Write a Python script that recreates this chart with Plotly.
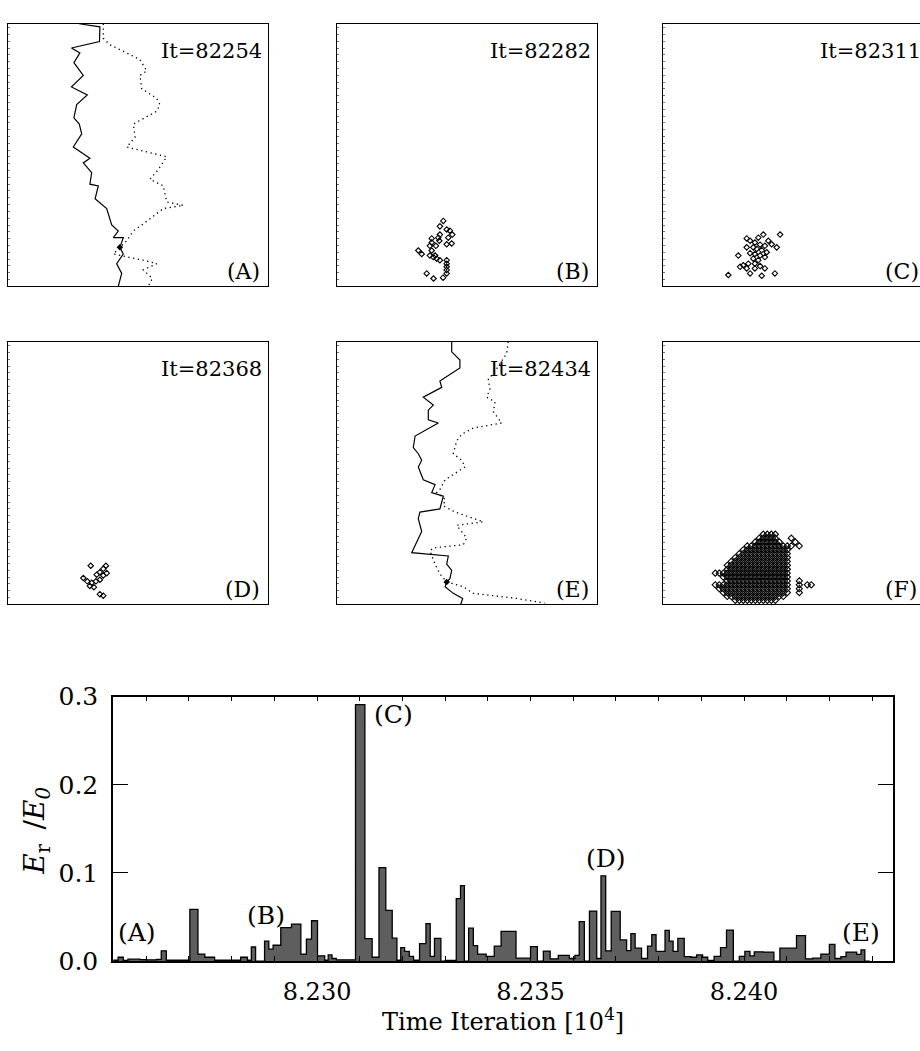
import plotly.graph_objects as go

W, H = 920, 1051
FONT = "DejaVu Serif"

# ---------------- bottom chart: energy ratio vs time iteration ----------------
step_start = [82252.3, 82253.4, 82254.6, 82255.7, 82258.5, 82260.0, 82262.4, 82263.5, 82264.7,
              82270.2, 82272.1, 82273.7, 82276.0, 82282.1, 82283.7, 82284.6, 82285.6, 82287.7,
              82288.7, 82289.7, 82291.5, 82294.0, 82296.2, 82297.5, 82298.7, 82300.1, 82301.8,
              82302.6, 82303.5, 82304.5, 82309.0, 82311.2, 82312.9, 82314.5, 82316.1, 82317.6,
              82318.7, 82319.6, 82320.5, 82321.6, 82322.6, 82324.0, 82325.5, 82326.5, 82327.5,
              82329.0, 82330.0, 82332.6, 82333.6, 82334.5, 82335.5, 82336.6, 82337.6, 82339.6,
              82341.5, 82343.1, 82346.6, 82350.0, 82351.6, 82353.0, 82354.6, 82356.5, 82359.1,
              82360.4, 82361.4, 82362.6, 82363.8, 82365.5, 82366.5, 82367.6, 82368.9, 82371.0,
              82372.5, 82373.5, 82374.5, 82376.0, 82377.4, 82378.4, 82379.4, 82381.5, 82382.5,
              82383.4, 82384.5, 82386.0, 82387.6, 82388.9, 82390.3, 82391.5, 82393.0, 82394.5,
              82395.9, 82397.5, 82398.9, 82400.2, 82401.4, 82402.4, 82404.5, 82407.0, 82408.4,
              82412.3, 82414.4, 82416.1, 82418.0, 82420.0, 82421.3, 82422.7, 82423.9, 82426.4,
              82427.4, 82428.3]
step_energy = [0.001, 0.0044, 0.0007, 0.0022, 0.0018, 0.0015, 0.002, 0.0117, 0.001,
               0.0586, 0.008, 0.0044, 0.001, 0.0044, 0.001, 0.016, 0.0, 0.0227,
               0.0136, 0.018, 0.038, 0.042, 0.008, 0.025, 0.0458, 0.006, 0.001,
               0.007, 0.003, 0.0015, 0.291, 0.0256, 0.0044, 0.106, 0.0575, 0.026,
               0.001, 0.0154, 0.011, 0.0055, 0.001, 0.0198, 0.0425, 0.0055, 0.0258,
               0.0, 0.0008, 0.071, 0.0857, 0.0, 0.0374, 0.0176, 0.008, 0.0055,
               0.017, 0.0337, 0.0033, 0.0165, 0.0, 0.0114, 0.0026, 0.0066, 0.003,
               0.0066, 0.0447, 0.0, 0.0568, 0.003, 0.0967, 0.0117, 0.0565, 0.024,
               0.012, 0.0311, 0.0147, 0.003, 0.017, 0.030, 0.011, 0.0348, 0.0227,
               0.011, 0.0258, 0.005, 0.0044, 0.007, 0.0044, 0.0007, 0.0055, 0.0154,
               0.0352, 0.0, 0.0055, 0.011, 0.006, 0.0106, 0.0103, 0.0, 0.0147,
               0.0289, 0.0026, 0.0033, 0.008, 0.019, 0.003, 0.005, 0.0103, 0.0077,
               0.0128, 0.0]
step_end = 82429.5
x_range_iter = [82252.2, 82434.9]
x_tick_labels = ["8.230", "8.235", "8.240"]
y_tick_labels = ["0.0", "0.1", "0.2", "0.3"]
event_labels = ["(A)", "(B)", "(C)", "(D)", "(E)"]
event_x = [8.22579, 8.22881, 8.23178, 8.23677, 8.24274]
event_y = [0.033, 0.0516, 0.280, 0.1165, 0.033]

# ---------------- snapshot panels (lattice coordinates: column, row) ----------------
panel_iters = ["It=82254", "It=82282", "It=82311", "It=82368", "It=82434", ""]
panel_tags = ["(A)", "(B)", "(C)", "(D)", "(E)", "(F)"]

a_solid_c = [17.7, 22.9, 22.8, 15.8, 17.9, 16.4, 18.75, 15.8, 19.75, 17.1, 16.4, 17.75, 18.35, 16.25,
             20.4, 18.75, 20.85, 20.4, 22.5, 21.7, 24.6, 25.85, 27.5, 26.25, 28.75, 27.9, 28.75,
             27.1, 28.35, 27.5]
a_solid_r = [67.5, 66.7, 62.9, 61.25, 60, 57.5, 54.2, 51.25, 49.2, 46.7, 43.3, 41.7, 39.2, 35.8,
             32.9, 31.7, 29.2, 26.25, 25.8, 22.5, 20, 15.8, 14.2, 12.5, 12.5, 10, 8.3, 5.8, 3.3, 0]
a_dot_c = [23.75, 23.75, 25.4, 29.6, 32.9, 34.6, 32.9, 33.35, 37.1, 37.9, 37.1, 31.25, 31.7, 29.6,
           39.6, 37.5, 35.4, 38.75, 39.6, 43.75, 38.75, 34.6, 31.25, 29.6, 27.9, 26.25, 33.75,
           37.1, 33.75, 36, 35]
a_dot_r = [67.5, 63.75, 62.1, 60, 58.3, 55.4, 54.2, 50.8, 48.3, 46.7, 45, 41.7, 38.3, 35.8, 33.3,
           30, 27.5, 25.8, 21.7, 20.8, 20, 16.7, 14.2, 11.7, 10, 8.3, 6.7, 5.8, 4.2, 2, 0]
a_mark = (27.9, 10.0)

e_solid_c = [28.75, 28.75, 30.8, 30.8, 25.8, 26.25, 21.65, 24.15, 22.9, 22.9, 25.4, 19.6, 19.15,
             20.4, 21.25, 20.4, 21.65, 24.6, 23.75, 26.65, 25.8, 20.8, 20.4, 21.25, 18.75, 27.9,
             27.5, 28.75, 28.3, 27.5, 27.1, 29.15, 31.5, 31]
e_solid_r = [67.5, 64.9, 62.8, 60.75, 57.4, 55.75, 53.25, 51.2, 49.9, 47.4, 46.6, 43.25, 40.3,
             38.7, 37, 35.3, 32, 30.75, 28.7, 27.8, 24.5, 23.7, 22, 18.7, 13.25, 12.4, 10.3, 8.7,
             6.6, 5.75, 4.5, 2.8, 1.5, 0]
e_dot_c = [42.9, 42.5, 39.6, 37.9, 38.3, 37.5, 39.6, 39.15, 41.25, 34.15, 31.25, 30, 29.15, 31.25,
           32.1, 28.3, 27.1, 25.8, 25, 27.1, 26.65, 29.6, 36.65, 30, 31.25, 32.5, 31.65, 24.15,
           23.3, 24.6, 25.8, 27.5, 31.65, 34.15, 45, 52]
e_dot_r = [67.5, 64.5, 59.9, 57.8, 55.3, 53.25, 52, 49.5, 46.6, 45.3, 43.7, 42, 38.7, 37, 35.3,
           32.8, 32, 29.5, 28.7, 27, 25.3, 23.7, 21.2, 20.3, 18.7, 17, 15.3, 14.5, 13.7, 10.3,
           7.8, 5.75, 4.5, 2.8, 1.5, 0.3]
e_mark = (27.5, 5.75)

b_c = [26.65, 25.8, 27.5, 28.3, 25.8, 28.9, 27.9, 23.75, 25.4, 23.75, 25.65, 28.75, 27.5, 23.3,
       24.8, 20.4, 21.25, 23.75, 23.3, 24.6, 25.0, 25.8, 24.15, 27.5, 27.5, 27.5, 27.5, 27.5,
       22.5, 26.6, 24.2]
b_r = [16.8, 15.4, 14.6, 14.3, 13.3, 13.3, 12.5, 12.3, 12.5, 11.25, 11.7, 11.0, 10.8, 10.4,
       10.4, 9.2, 8.3, 9.2, 7.9, 7.9, 7.1, 6.7, 7.5, 6.7, 5.8, 5.0, 4.2, 3.3, 3.3, 2.2, 2.0]

c_c = [29.2, 25.0, 23.75, 20.85, 21.7, 26.25, 27.1, 22.9, 24.2, 25.4, 28.35, 20.85, 22.5, 23.35,
       24.6, 25.85, 21.7, 22.9, 24.2, 18.75, 25.4, 22.5, 23.75, 21.25, 22.9, 20.0, 19.2, 24.2,
       25.4, 22.9, 20.85, 16.25, 27.9, 24.6, 21.7]
c_r = [13.3, 13.3, 12.5, 12.3, 11.7, 11.7, 10.8, 11.25, 10.7, 10.4, 10.0, 10.0, 10.0, 9.6,
       9.3, 8.75, 8.5, 8.3, 7.9, 7.9, 7.5, 7.1, 6.7, 5.8, 5.8, 5.4, 5.0, 5.2, 4.6, 4.6, 4.6,
       2.9, 3.3, 2.7, 3.3]

d_c = [20.6, 24.4, 23.75, 22.9, 24.6, 22.1, 23.75, 18.75, 19.75, 20.85, 21.9, 22.9, 20.4, 21.4,
       22.9, 23.75]
d_r = [9.9, 9.9, 9.1, 8.25, 8.0, 7.6, 7.4, 6.75, 5.9, 5.5, 5.9, 6.3, 4.7, 4.4, 2.6, 2.2]

# F: dense cluster read row by row (row, first column, last column) plus stray cells
f_row = [18, 17, 16, 15, 14, 13, 12, 11, 10, 9, 8, 7, 6, 5, 4, 3, 2, 1]
f_col_lo = [25, 24, 23, 21, 20, 19, 18, 17, 16, 16, 13, 15, 16, 13, 14, 15, 16, 18]
f_col_hi = [28, 28, 29, 31, 31, 31, 31, 31, 31, 31, 31, 31, 31, 31, 31, 31, 30, 28]
f_extra_c = [32, 33, 32, 34, 34, 34, 36, 37, 34, 34]
f_extra_r = [17, 16, 15, 15, 6, 5, 5, 5, 4, 3]

f_c, f_r = [], []
for r, lo, hi in zip(f_row, f_col_lo, f_col_hi):
    for c in range(lo, hi + 1):
        f_c.append(c)
        f_r.append(r)
f_c += f_extra_c
f_r += f_extra_r

# ---------------- figure ----------------
fig = go.Figure()

def xdom(x0, x1):
    return [x0 / W, min(x1 / W, 1.0)]

def ydom(y0, y1):
    return [1 - y1 / H, 1 - y0 / H]

panel_box = [  # pixel boxes (left, top, right, bottom)
    (8.3, 10, 268.3, 280), (336.7, 10, 596.7, 280), (663.3, 10, 923.3, 280),
    (8.3, 337, 268.3, 607), (336.7, 337, 596.7, 607), (663.3, 337, 923.3, 607),
]

layout_axes = {}
for i, (l, t, r, b) in enumerate(panel_box):
    n = "" if i == 0 else str(i + 1)
    cut = r > W
    xr = [0, (min(r, W) - l) / 4.0]
    layout_axes["xaxis" + n] = dict(domain=xdom(l, r), range=xr, showgrid=False, zeroline=False,
                                    showticklabels=False, showline=True, linecolor="black",
                                    linewidth=1, mirror=True, ticks="", anchor="y" + n)
    layout_axes["yaxis" + n] = dict(domain=ydom(t, b), range=[0, 67.5], showgrid=False,
                                    zeroline=False, showticklabels=False, showline=True,
                                    linecolor="black", linewidth=1, mirror=not cut,
                                    ticks="inside", ticklen=2, dtick=1.75, tickcolor="#777",
                                    tickwidth=1, anchor="x" + n)

def panel_axes(i):
    n = "" if i == 0 else str(i + 1)
    return "x" + n, "y" + n

line_sets = [(0, a_solid_c, a_solid_r, a_dot_c, a_dot_r, a_mark),
             (4, e_solid_c, e_solid_r, e_dot_c, e_dot_r, e_mark)]
for i, sc, sr, dc, dr, mk in line_sets:
    xa, ya = panel_axes(i)
    fig.add_trace(go.Scatter(x=sc, y=sr, mode="lines", line=dict(color="black", width=1.2),
                             xaxis=xa, yaxis=ya, hoverinfo="skip"))
    fig.add_trace(go.Scatter(x=dc, y=dr, mode="lines",
                             line=dict(color="black", width=1.3, dash="1.3px,3.5px"),
                             xaxis=xa, yaxis=ya, hoverinfo="skip"))
    fig.add_trace(go.Scatter(x=[mk[0]], y=[mk[1]], mode="markers",
                             marker=dict(color="black", size=5, symbol="diamond"),
                             xaxis=xa, yaxis=ya, hoverinfo="skip"))

for i, cc, rr, sz in [(1, b_c, b_r, 4.2), (2, c_c, c_r, 4.2), (3, d_c, d_r, 4.2), (5, f_c, f_r, 4.8)]:
    xa, ya = panel_axes(i)
    fig.add_trace(go.Scatter(x=cc, y=rr, mode="markers",
                             marker=dict(symbol="diamond-open", size=sz, color="black",
                                         line=dict(width=1.1, color="black")),
                             xaxis=xa, yaxis=ya, hoverinfo="skip"))

annotations = []
for i, (l, t, r, b) in enumerate(panel_box):
    cut = r > W
    if panel_iters[i]:
        if cut:
            ax = dict(x=818 / W, xanchor="left")
        else:
            ax = dict(x=(r - 4) / W, xanchor="right")
        annotations.append(dict(text=panel_iters[i], xref="paper", yref="paper",
                                y=1 - (t + 28) / H, yanchor="middle", showarrow=False,
                                font=dict(family=FONT, size=21, color="black"), **ax))
    if cut:
        ax = dict(x=883 / W, xanchor="left")
    else:
        ax = dict(x=(r - 6) / W, xanchor="right")
    annotations.append(dict(text=panel_tags[i], xref="paper", yref="paper",
                            y=1 - (b - 15) / H, yanchor="middle", showarrow=False,
                            font=dict(family=FONT, size=22, color="black"), **ax))

# bottom chart
sx = [t / 1e4 for t in step_start] + [step_end / 1e4]
sy = step_energy + [0.0]
fig.add_trace(go.Scatter(x=sx, y=sy, mode="lines", line_shape="hv", fill="tozeroy",
                         fillcolor="#5e5e5e", line=dict(color="black", width=1.3),
                         xaxis="x7", yaxis="y7", hoverinfo="skip"))

for lab, ex, ey in zip(event_labels, event_x, event_y):
    annotations.append(dict(text=lab, x=ex, y=ey, xref="x7", yref="y7", showarrow=False,
                            xanchor="center", yanchor="middle",
                            font=dict(family=FONT, size=25, color="black")))

annotations.append(dict(text="<i>E</i><sub>r</sub>\u2009 /<i>E</i><sub><i>0</i></sub>",
                        xref="paper", yref="paper", x=37 / W, y=1 - 840 / H, textangle=-90,
                        showarrow=False, xanchor="center", yanchor="middle",
                        font=dict(family=FONT, size=28, color="black")))
annotations.append(dict(text="Time Iteration [10<sup>4</sup>]", xref="paper", yref="paper",
                        x=503 / W, y=1 - 1035 / H, showarrow=False, xanchor="center",
                        yanchor="middle", font=dict(family=FONT, size=24, color="black")))

layout_axes["xaxis7"] = dict(domain=xdom(113, 893),
                             range=[x_range_iter[0] / 1e4, x_range_iter[1] / 1e4],
                             anchor="y7", showgrid=False, zeroline=False, showline=True,
                             linecolor="black", linewidth=1.5, mirror="allticks",
                             ticks="inside", ticklen=5, tickcolor="black", tickwidth=1.2,
                             tickvals=[float(s) for s in x_tick_labels], ticktext=x_tick_labels,
                             minor=dict(ticks="inside", ticklen=5, dtick=0.001, tick0=8.23,
                                        tickcolor="black", tickwidth=1.2, showgrid=False),
                             ticklabelstandoff=8,
                             tickfont=dict(family=FONT, size=24, color="black"))
layout_axes["yaxis7"] = dict(domain=ydom(702, 974), range=[0, 0.3], anchor="x7",
                             showgrid=False, zeroline=False, showline=True, linecolor="black",
                             linewidth=1.5, mirror="allticks", ticks="inside", ticklen=15,
                             tickcolor="black", tickwidth=1.2,
                             tickvals=[float(s) for s in y_tick_labels], ticktext=y_tick_labels,
                             ticklabelstandoff=8,
                             tickfont=dict(family=FONT, size=25, color="black"))

fig.update_layout(width=W, height=H, margin=dict(l=0, r=0, t=0, b=0),
                  paper_bgcolor="white", plot_bgcolor="white", showlegend=False,
                  annotations=annotations, **layout_axes)

fig.write_html("out.html")
